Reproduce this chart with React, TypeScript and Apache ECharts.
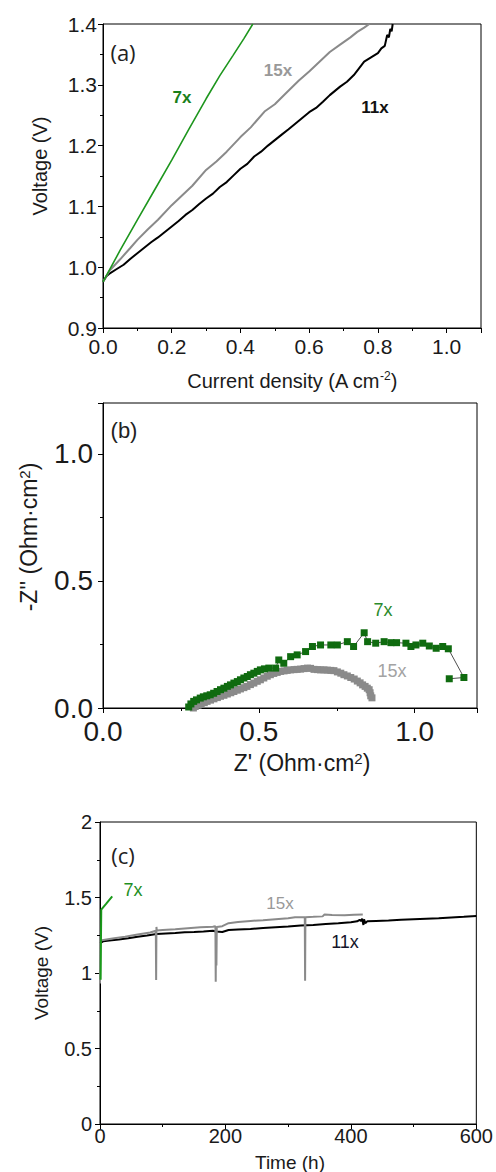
import React, { useEffect, useRef } from "react";
import * as echarts from "echarts";

// ---------- Panel (a): polarization curves ----------
const aCurrent7x = [0, 0.05, 0.1, 0.15, 0.2, 0.25, 0.3, 0.34, 0.378, 0.41, 0.436];
const aVolt7x = [0.976, 1.028, 1.078, 1.127, 1.176, 1.227, 1.277, 1.315, 1.348, 1.376, 1.4];

const aCurrent15x = [0, 0.02, 0.05, 0.08, 0.1, 0.13, 0.16, 0.2, 0.23, 0.26, 0.3, 0.33, 0.36, 0.4, 0.43, 0.47, 0.5, 0.53, 0.57, 0.6, 0.63, 0.66, 0.69, 0.72, 0.74, 0.76, 0.775];
const aVolt15x = [0.976, 0.995, 1.013, 1.032, 1.045, 1.062, 1.078, 1.102, 1.118, 1.134, 1.16, 1.174, 1.19, 1.214, 1.23, 1.256, 1.268, 1.285, 1.307, 1.322, 1.338, 1.354, 1.366, 1.378, 1.387, 1.394, 1.4];

const aCurrent11x = [0, 0.01, 0.02, 0.04, 0.06, 0.08, 0.1, 0.12, 0.14, 0.16, 0.18, 0.2, 0.22, 0.24, 0.26, 0.28, 0.3, 0.32, 0.34, 0.36, 0.38, 0.4, 0.42, 0.44, 0.46, 0.48, 0.5, 0.52, 0.54, 0.57, 0.6, 0.62, 0.64, 0.66, 0.69, 0.71, 0.73, 0.76, 0.78, 0.8, 0.81, 0.82, 0.827, 0.832, 0.836, 0.84, 0.843];
const aVolt11x = [0.976, 0.985, 0.99, 0.997, 1.004, 1.014, 1.023, 1.032, 1.041, 1.049, 1.058, 1.067, 1.076, 1.086, 1.094, 1.104, 1.113, 1.121, 1.132, 1.14, 1.151, 1.162, 1.17, 1.182, 1.19, 1.2, 1.209, 1.218, 1.227, 1.241, 1.255, 1.262, 1.272, 1.283, 1.297, 1.305, 1.316, 1.338, 1.345, 1.352, 1.36, 1.364, 1.382, 1.378, 1.392, 1.388, 1.4];

// ---------- Panel (b): impedance (Nyquist) ----------
const bZre7x = [0.275, 0.282, 0.291, 0.3, 0.312, 0.322, 0.333, 0.344, 0.355, 0.366, 0.377, 0.388, 0.399, 0.409, 0.42, 0.431, 0.441, 0.452, 0.463, 0.473, 0.484, 0.495, 0.505, 0.518, 0.532, 0.554, 0.564, 0.58, 0.602, 0.623, 0.65, 0.672, 0.698, 0.731, 0.752, 0.784, 0.804, 0.838, 0.849, 0.875, 0.902, 0.924, 0.942, 0.972, 0.988, 1.004, 1.026, 1.047, 1.069, 1.09, 1.108, 1.158, 1.111];
const bZim7x = [0.004, 0.016, 0.026, 0.032, 0.039, 0.044, 0.048, 0.052, 0.058, 0.065, 0.072, 0.078, 0.085, 0.091, 0.098, 0.104, 0.111, 0.118, 0.124, 0.131, 0.137, 0.144, 0.15, 0.154, 0.157, 0.157, 0.189, 0.176, 0.202, 0.209, 0.222, 0.242, 0.248, 0.248, 0.248, 0.261, 0.242, 0.296, 0.261, 0.255, 0.261, 0.257, 0.257, 0.255, 0.242, 0.248, 0.255, 0.244, 0.235, 0.242, 0.233, 0.12, 0.115];

const bZre15x = [0.29, 0.296, 0.305, 0.315, 0.325, 0.334, 0.345, 0.356, 0.367, 0.377, 0.388, 0.399, 0.41, 0.42, 0.431, 0.441, 0.452, 0.462, 0.473, 0.484, 0.495, 0.505, 0.516, 0.527, 0.537, 0.548, 0.559, 0.57, 0.581, 0.591, 0.602, 0.613, 0.623, 0.634, 0.645, 0.656, 0.666, 0.677, 0.688, 0.698, 0.709, 0.72, 0.731, 0.741, 0.752, 0.763, 0.773, 0.784, 0.795, 0.806, 0.816, 0.825, 0.833, 0.841, 0.848, 0.854, 0.857, 0.859, 0.863];
const bZim15x = [0.0, 0.006, 0.011, 0.016, 0.021, 0.026, 0.031, 0.036, 0.041, 0.046, 0.05, 0.055, 0.06, 0.065, 0.07, 0.075, 0.08, 0.085, 0.092, 0.098, 0.105, 0.111, 0.118, 0.125, 0.131, 0.136, 0.14, 0.144, 0.146, 0.148, 0.15, 0.151, 0.152, 0.153, 0.155, 0.157, 0.156, 0.152, 0.151, 0.15, 0.15, 0.149, 0.148, 0.147, 0.142, 0.137, 0.131, 0.126, 0.12, 0.114, 0.106, 0.099, 0.091, 0.085, 0.078, 0.072, 0.06, 0.048, 0.04];

// ---------- Panel (c): durability ----------
const cTime7x = [1, 1.5, 2, 6, 10, 19.5];
const cVolt7x = [0.955, 1.2, 1.42, 1.44, 1.459, 1.507];

const cTime15x = [0, 0.5, 20, 40, 60, 80, 89, 89.5, 90, 90.5, 100, 120, 140, 160, 180, 184, 184.5, 185, 185.6, 186.2, 195, 205, 220, 240, 260, 280, 300, 311, 326.5, 327, 327.5, 340, 355, 358, 370, 390, 405, 419];
const cVolt15x = [0.93, 1.215, 1.228, 1.24, 1.255, 1.268, 1.28, 0.954, 1.305, 1.282, 1.285, 1.29, 1.297, 1.303, 1.306, 1.31, 0.942, 1.31, 1.05, 1.305, 1.31, 1.33, 1.338, 1.345, 1.35, 1.356, 1.362, 1.369, 1.37, 0.948, 1.37, 1.372, 1.375, 1.388, 1.384, 1.382, 1.385, 1.388];

const cTime11x = [0, 5, 15, 30, 45, 60, 75, 90, 105, 120, 135, 150, 165, 180, 185, 195, 205, 220, 240, 260, 280, 300, 320, 340, 360, 380, 400, 410, 414, 416, 418, 420, 421, 423, 426, 440, 460, 480, 500, 520, 540, 560, 580, 600];
const cVolt11x = [1.198, 1.21, 1.215, 1.222, 1.23, 1.24, 1.248, 1.258, 1.262, 1.265, 1.27, 1.272, 1.275, 1.28, 1.275, 1.272, 1.285, 1.288, 1.292, 1.298, 1.303, 1.308, 1.314, 1.318, 1.325, 1.33, 1.336, 1.342, 1.352, 1.345, 1.36, 1.318, 1.355, 1.33, 1.342, 1.345, 1.347, 1.352, 1.356, 1.36, 1.362, 1.367, 1.372, 1.378];

const GREEN_A = "#1e961e";
const GREEN_B = "#0f6b0f";
const GREEN_C = "#1a9a1a";
const GRAY = "#8a8a8a";
const BLACK = "#000000";

const pairs = (xs: number[], ys: number[]) => xs.map((x, i) => [x, ys[i]]);

const SANS = "'Liberation Sans', Arial, sans-serif";
const TXT = "#1a1a1a";

function makeAxis(
  gridIndex: number,
  min: number,
  max: number,
  interval: number,
  labelSize: number,
  labelMargin: number,
  fmt: ((v: number) => string) | null,
  hideMax: boolean,
  lineHeight: number
) {
  return {
    type: "value",
    gridIndex,
    min,
    max,
    interval,
    axisLine: { show: true, onZero: false, lineStyle: { color: "#000", width: 1 } },
    axisTick: { show: true, inside: false, length: 5, lineStyle: { color: "#000", width: 1 } },
    minorTick: { show: true, splitNumber: 2, length: 3, lineStyle: { color: "#000", width: 1 } },
    splitLine: { show: false },
    minorSplitLine: { show: false },
    axisLabel: {
      fontSize: labelSize,
      lineHeight,
      fontFamily: SANS,
      color: TXT,
      margin: labelMargin,
      showMaxLabel: !hideMax,
      formatter: fmt ? (v: number) => fmt(v) : undefined,
    },
  };
}

const f1 = (v: number) => v.toFixed(1);
const fc = (v: number) => String(Math.round(v * 100) / 100);

function title(text: string, x: number, y: number, size: number, vertical: boolean, supSize = 12) {
  return {
    type: "text",
    x,
    y,
    rotation: vertical ? Math.PI / 2 : 0,
    style: {
      text,
      fill: TXT,
      fontSize: size,
      fontFamily: SANS,
      align: "center",
      verticalAlign: "middle",
      rich: {
        sup: { fontSize: supSize, fontFamily: SANS, fill: TXT, verticalAlign: "top", lineHeight: size + 2 },
      },
    },
  };
}

function note(text: string, x: number, y: number, size: number, color: string, bold = false, family = SANS) {
  return {
    type: "text",
    x,
    y,
    style: {
      text,
      fill: color,
      fontSize: size,
      fontWeight: bold ? "bold" : "normal",
      fontFamily: family,
      align: "center",
      verticalAlign: "middle",
    },
  };
}

export default function App() {
  const ref = useRef<HTMLDivElement>(null);

  useEffect(() => {
    if (!ref.current) return;
    const chart = echarts.init(ref.current, undefined, { renderer: "svg" });

    const option: any = {
      animation: false,
      backgroundColor: "#ffffff",
      grid: [
        { left: 103, top: 24, width: 378, height: 304, show: true, borderColor: "#000", borderWidth: 1 },
        { left: 103, top: 403, width: 374, height: 305, show: true, borderColor: "#000", borderWidth: 1 },
        { left: 100, top: 822, width: 379, height: 302, show: true, borderColor: "#000", borderWidth: 1 },
      ],
      xAxis: [
        makeAxis(0, 0, 1.1, 0.2, 21, 9, f1, true, 18),
        makeAxis(1, 0, 1.2, 0.5, 28, 12, f1, true, 22),
        makeAxis(2, 0, 600, 200, 20, 2, null, false, 20),
      ],
      yAxis: [
        makeAxis(0, 0.9, 1.4, 0.1, 21, 6, f1, false, 18),
        makeAxis(1, 0, 1.2, 0.5, 28, 10, f1, true, 22),
        makeAxis(2, 0, 2, 0.5, 20, 8, fc, false, 20),
      ],
      series: [
        {
          type: "line", xAxisIndex: 0, yAxisIndex: 0, showSymbol: false, symbol: "none",
          data: pairs(aCurrent11x, aVolt11x), lineStyle: { color: BLACK, width: 2 },
        },
        {
          type: "line", xAxisIndex: 0, yAxisIndex: 0, showSymbol: false, symbol: "none",
          data: pairs(aCurrent15x, aVolt15x), lineStyle: { color: GRAY, width: 2 },
        },
        {
          type: "line", xAxisIndex: 0, yAxisIndex: 0, showSymbol: false, symbol: "none",
          data: pairs(aCurrent7x, aVolt7x), lineStyle: { color: GREEN_A, width: 1.6 },
        },
        {
          type: "line", xAxisIndex: 1, yAxisIndex: 1, symbol: "rect", symbolSize: 7,
          data: pairs(bZre15x, bZim15x), lineStyle: { color: GRAY, width: 2 },
          itemStyle: { color: GRAY },
        },
        {
          type: "line", xAxisIndex: 1, yAxisIndex: 1, symbol: "rect", symbolSize: 7,
          data: pairs(bZre7x, bZim7x), lineStyle: { color: "#222", width: 0.8 },
          itemStyle: { color: GREEN_B },
        },
        {
          type: "line", xAxisIndex: 2, yAxisIndex: 2, showSymbol: false, symbol: "none",
          data: pairs(cTime11x, cVolt11x), lineStyle: { color: BLACK, width: 2 },
        },
        {
          type: "line", xAxisIndex: 2, yAxisIndex: 2, showSymbol: false, symbol: "none",
          data: pairs(cTime15x, cVolt15x), lineStyle: { color: GRAY, width: 2 },
        },
        {
          type: "line", xAxisIndex: 2, yAxisIndex: 2, showSymbol: false, symbol: "none",
          data: pairs(cTime7x, cVolt7x), lineStyle: { color: GREEN_C, width: 2 },
        },
      ],
      graphic: [
        // axis titles
        title("Current density (A cm{sup|-2})", 292, 381, 20, false, 12),
        title("Voltage (V)", 40, 166, 20, true),
        title("Z' (Ohm·cm{sup|2})", 302, 763, 23, false, 15),
        title("-Z'' (Ohm·cm{sup|2})", 29, 537, 23, true, 15),
        title("Time (h)", 290, 1162, 19, false),
        title("Voltage (V)", 41, 973, 19, true),

        // panel labels and annotations
        note("(a)", 123, 52, 22, "#222", false, "'Open Sans', sans-serif"),
        note("7x", 182, 97, 17, "#1a7f1a", true),
        note("15x", 278, 70, 17, "#999999", true),
        note("11x", 375, 107, 17, "#111111", true),

        note("(b)", 124, 430, 22, "#222"),
        note("7x", 383, 610, 18, "#2b8a2b"),
        note("15x", 392, 671, 18, "#a3a3a3"),

        note("(c)", 123, 855, 22, "#222", false, "'Open Sans', sans-serif"),
        note("7x", 133, 890, 18, "#1f8f1f"),
        note("15x", 280, 903, 17, "#999999"),
        note("11x", 345, 942, 18, "#14142a"),
      ],
    };

    chart.setOption(option);
    return () => chart.dispose();
  }, []);

  return (
    <div
      ref={ref}
      style={{ position: "fixed", left: 0, top: 0, width: 496, height: 1172, background: "#fff" }}
    />
  );
}
